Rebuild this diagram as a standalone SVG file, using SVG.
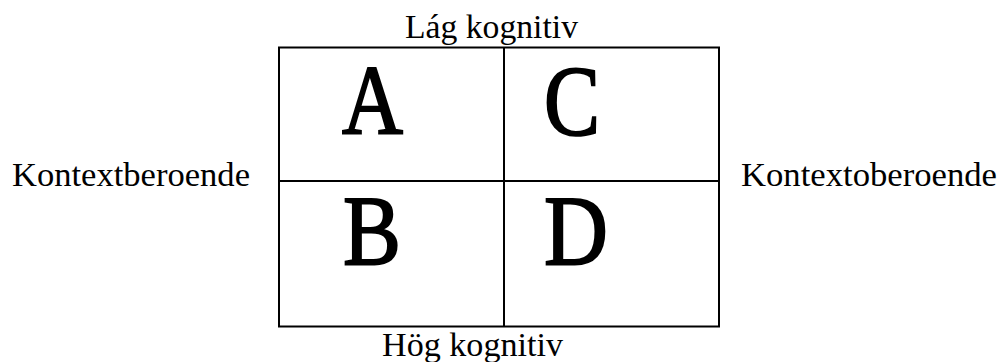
<svg xmlns="http://www.w3.org/2000/svg" width="1000" height="362" viewBox="0 0 1000 362">
<style>
.lbl{font-family:"Liberation Serif","Times New Roman",serif;font-size:34px;fill:#000}
.big{font-family:"Liberation Serif","Times New Roman",serif;font-size:100px;fill:#000;stroke:#000;stroke-width:2}
.ln{stroke:#000;stroke-width:2;fill:none}
</style>
<rect width="1000" height="362" fill="#fff"/>
<g id="connectors">
<rect class="ln" x="279" y="47.5" width="440" height="279"/>
<line class="ln" x1="504" y1="47.5" x2="504" y2="326.5"/>
<line class="ln" x1="279" y1="181" x2="719" y2="181"/>
</g>
<g id="top"><text class="lbl" x="405" y="38" textLength="173" lengthAdjust="spacingAndGlyphs">Lág kognitiv</text></g>
<g id="bottom"><text class="lbl" x="382" y="356" textLength="181" lengthAdjust="spacingAndGlyphs">Hög kognitiv</text></g>
<g id="left"><text class="lbl" x="12" y="186" textLength="238" lengthAdjust="spacingAndGlyphs">Kontextberoende</text></g>
<g id="right"><text class="lbl" x="741" y="186" textLength="256" lengthAdjust="spacingAndGlyphs">Kontextoberoende</text></g>
<g id="A"><text class="big" x="342" y="133.5" textLength="61" lengthAdjust="spacingAndGlyphs">A</text></g>
<g id="C"><text class="big" x="544" y="133.5" textLength="56" lengthAdjust="spacingAndGlyphs">C</text></g>
<g id="B"><text class="big" x="343" y="263.5" textLength="58" lengthAdjust="spacingAndGlyphs">B</text></g>
<g id="D"><text class="big" x="544" y="263.5" textLength="64" lengthAdjust="spacingAndGlyphs">D</text></g>
</svg>
